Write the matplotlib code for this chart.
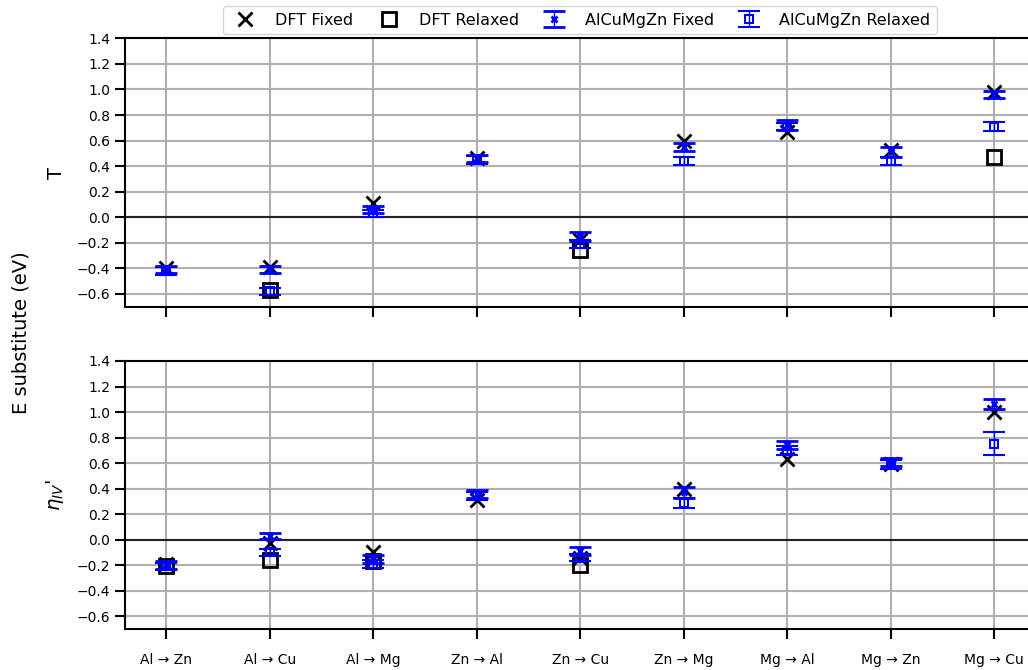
import matplotlib.pyplot as plt
import numpy as np

nan = np.nan

labels = ["Al → Zn", "Al → Cu", "Al → Mg", "Zn → Al", "Zn → Cu",
          "Zn → Mg", "Mg → Al", "Mg → Zn", "Mg → Cu"]

# T
t_dft_fixed = [-0.40, -0.39, 0.11, 0.46, -0.18, 0.60, 0.67, 0.53, 0.98]
t_dft_relaxed = [nan, -0.57, nan, nan, -0.26, nan, nan, nan, 0.47]
t_fit_fixed = [-0.41, -0.41, 0.06, 0.46, -0.15, 0.55, 0.72, 0.51, 0.96]
t_fit_fixed_err = [0.03, 0.03, 0.03, 0.03, 0.035, 0.03, 0.04, 0.04, 0.03]
t_fit_relaxed = [-0.42, -0.58, 0.03, 0.45, -0.21, 0.44, 0.71, 0.44, 0.71]
t_fit_relaxed_err = [0.03, 0.03, 0.03, 0.03, 0.03, 0.035, 0.03, 0.035, 0.035]

# eta_IV'
e_dft_fixed = [-0.19, -0.03, -0.10, 0.31, -0.14, 0.40, 0.63, 0.59, 1.00]
e_dft_relaxed = [-0.21, -0.16, -0.17, nan, -0.20, nan, nan, nan, nan]
e_fit_fixed = [-0.20, 0.03, -0.15, 0.36, -0.09, 0.37, 0.74, 0.61, 1.06]
e_fit_fixed_err = [0.03, 0.025, 0.03, 0.03, 0.03, 0.04, 0.03, 0.03, 0.04]
e_fit_relaxed = [-0.21, -0.10, -0.19, 0.34, -0.14, 0.29, 0.70, 0.59, 0.75]
e_fit_relaxed_err = [0.03, 0.03, 0.03, 0.03, 0.03, 0.04, 0.035, 0.035, 0.09]

x = np.arange(len(labels))

fig = plt.figure(figsize=(10.28, 6.7), dpi=100)
ax1 = fig.add_axes([0.1216, 0.5422, 0.8856, 0.4006])
ax2 = fig.add_axes([0.1216, 0.0612, 0.8856, 0.4000], sharex=ax1)


def draw(ax, dft_fixed, dft_relaxed, fit_fixed, fit_fixed_err, fit_relaxed, fit_relaxed_err):
    ax.set_axisbelow(True)
    ax.grid(True, color="#b0b0b0", lw=1.5)
    ax.axhline(0, color="#222222", lw=1.5, zorder=1)
    ax.plot(x, dft_fixed, "x", color="black", ms=10, mew=2, label="DFT Fixed")
    ax.plot(x, dft_relaxed, "s", color="black", mfc="none", ms=10, mew=2,
            label="DFT Relaxed")
    ax.errorbar(x, fit_fixed, yerr=fit_fixed_err, fmt="x", color="blue", ms=5,
                mew=2, capsize=8, capthick=1.0, elinewidth=1,
                label="AlCuMgZn Fixed")
    ax.errorbar(x, fit_relaxed, yerr=fit_relaxed_err, fmt="s", color="blue",
                mfc="none", ms=6, mew=1.5, capsize=8, capthick=1.0,
                elinewidth=1, label="AlCuMgZn Relaxed")
    ax.set_ylim(-0.7, 1.4)
    ax.set_yticks(np.arange(-0.6, 1.41, 0.2))
    ax.set_xlim(-0.4, 8.4)
    ax.set_xticks(x)
    ax.tick_params(axis="both", length=7, width=1.5, labelsize=10)
    for s in ax.spines.values():
        s.set_linewidth(1.5)


draw(ax1, t_dft_fixed, t_dft_relaxed, t_fit_fixed, t_fit_fixed_err,
     t_fit_relaxed, t_fit_relaxed_err)
draw(ax2, e_dft_fixed, e_dft_relaxed, e_fit_fixed, e_fit_fixed_err,
     e_fit_relaxed, e_fit_relaxed_err)

ax1.tick_params(axis="x", labelbottom=False)
ax2.set_xticklabels(labels, fontsize=10)
ax2.tick_params(axis="x", pad=10)

ax1.set_ylabel("T", fontsize=14, labelpad=8)
ax2.set_ylabel(r"$\eta_{IV}$'", fontsize=14, labelpad=8)
fig.text(0.02, 0.503, "E substitute (eV)", rotation=90, va="center",
         ha="center", fontsize=14)

handles, names = ax1.get_legend_handles_labels()
fig.legend(handles, names, loc="upper center", ncol=4, fontsize=11.5,
           bbox_to_anchor=(0.564, 1.0), columnspacing=1.2,
           handletextpad=0.9, borderaxespad=0.4)

fig.savefig("out.png", dpi=100)
